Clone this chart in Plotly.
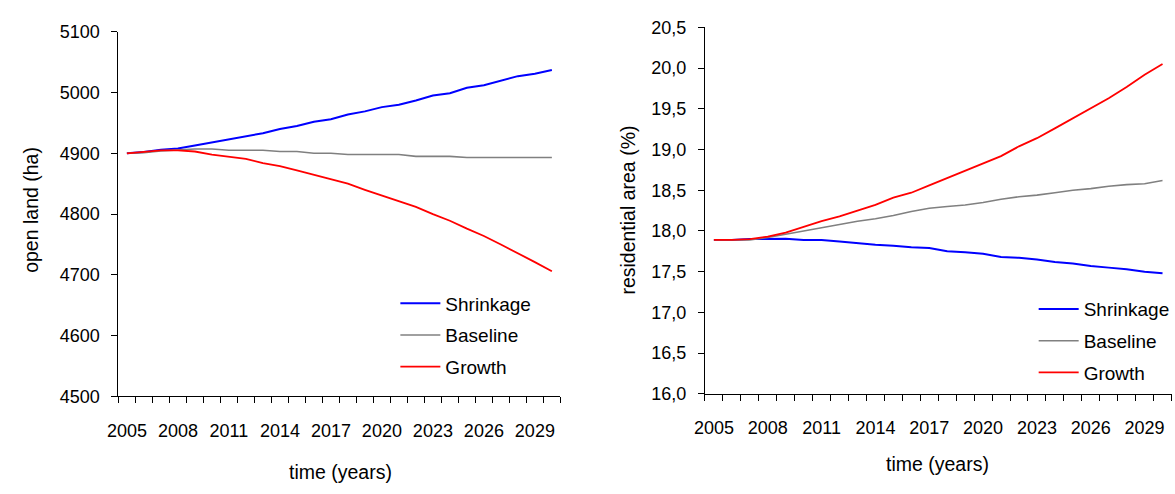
import plotly.graph_objects as go

years = list(range(2005, 2031))

# open land (ha)
open_shrinkage = [4900, 4902, 4906, 4908, 4913, 4918, 4923, 4928, 4933, 4940, 4945, 4952, 4956,
                  4964, 4969, 4976, 4980, 4987, 4995, 4999, 5008, 5012, 5020, 5027, 5031, 5037]
open_baseline = [4900, 4901, 4904, 4906, 4907, 4907, 4905, 4905, 4905, 4903, 4903, 4900, 4900,
                 4898, 4898, 4898, 4898, 4895, 4895, 4895, 4893, 4893, 4893, 4893, 4893, 4893]
open_growth = [4900, 4903, 4905, 4905, 4903, 4898, 4895, 4891, 4884, 4879, 4872, 4865, 4858,
               4850, 4840, 4831, 4821, 4812, 4800, 4789, 4776, 4764, 4750, 4736, 4721, 4706]

# residential area (%)
res_shrinkage = [17.89, 17.89, 17.90, 17.905, 17.905, 17.89, 17.89, 17.87, 17.85, 17.83, 17.82,
                 17.80, 17.79, 17.75, 17.74, 17.72, 17.68, 17.67, 17.65, 17.62, 17.60, 17.57,
                 17.55, 17.53, 17.50, 17.48]
res_baseline = [17.89, 17.89, 17.89, 17.92, 17.96, 18.00, 18.04, 18.08, 18.12, 18.15, 18.19,
                18.24, 18.28, 18.30, 18.32, 18.35, 18.39, 18.42, 18.44, 18.47, 18.50, 18.52,
                18.55, 18.57, 18.58, 18.62]
res_growth = [17.89, 17.89, 17.90, 17.93, 17.98, 18.05, 18.12, 18.18, 18.25, 18.32, 18.41,
              18.47, 18.56, 18.65, 18.74, 18.83, 18.92, 19.04, 19.14, 19.26, 19.38, 19.51,
              19.63, 19.77, 19.92, 20.05]

series_names = ["Shrinkage", "Baseline", "Growth"]
series_colors = ["#0000FF", "#808080", "#FF0000"]
series_widths = [2.0, 1.6, 1.8]

year_ticks = list(range(2005, 2030, 3))
open_ticks = [4500, 4600, 4700, 4800, 4900, 5000, 5100]
res_ticks = [16.0, 16.5, 17.0, 17.5, 18.0, 18.5, 19.0, 19.5, 20.0, 20.5]
res_ticktext = ["16,0", "16,5", "17,0", "17,5", "18,0", "18,5", "19,0", "19,5", "20,0", "20,5"]

FONT = "Liberation Sans, Arial, sans-serif"
W, H = 1175, 494
TICK_SIZE = 18
TITLE_SIZE = 19.5
LEGEND_SIZE = 19

fig = go.Figure()

for name, col, lw, ys in zip(series_names, series_colors, series_widths,
                             [open_shrinkage, open_baseline, open_growth]):
    fig.add_trace(go.Scatter(x=years, y=ys, mode="lines", name=name,
                             line=dict(color=col, width=lw),
                             xaxis="x", yaxis="y", legend="legend", legendgroup="l" + name))

for name, col, lw, ys in zip(series_names, series_colors, series_widths,
                             [res_shrinkage, res_baseline, res_growth]):
    fig.add_trace(go.Scatter(x=years, y=ys, mode="lines", name=name,
                             line=dict(color=col, width=lw),
                             xaxis="x2", yaxis="y2", legend="legend2", legendgroup="r" + name))


def px_x(p):
    return p / W


def px_y(p):
    return 1 - p / H


# Year labels sit under category centres (pushed down by an invisible major tick);
# the visible tick marks fall between categories as minor ticks.
xcommon = dict(
    range=[2004.5, 2030.5], tickmode="array", tickvals=year_ticks,
    ticks="outside", ticklen=18, tickcolor="rgba(0,0,0,0)",
    showline=True, linecolor="black", linewidth=1, showgrid=False, zeroline=False,
    tickfont=dict(family=FONT, size=TICK_SIZE, color="black"),
    minor=dict(tickmode="linear", tick0=2004.5, dtick=1, ticks="outside", ticklen=6,
               tickcolor="black", tickwidth=1, showgrid=False),
)
ycommon = dict(
    showline=True, linecolor="black", linewidth=1, showgrid=False, zeroline=False,
    ticks="outside", ticklen=6, tickcolor="black", tickwidth=1, ticklabelstandoff=8,
    tickfont=dict(family=FONT, size=TICK_SIZE, color="black"),
)

legend_common = dict(xanchor="left", yanchor="top", bgcolor="rgba(0,0,0,0)",
                     font=dict(family=FONT, size=LEGEND_SIZE, color="black"),
                     tracegroupgap=4, itemwidth=40)
title_font = dict(family=FONT, size=TITLE_SIZE, color="black")


def title(text, x, y, angle=0):
    return dict(text=text, xref="paper", yref="paper", x=px_x(x), y=px_y(y),
                xanchor="center", yanchor="middle", textangle=angle,
                showarrow=False, font=title_font)


fig.update_layout(
    width=W, height=H,
    margin=dict(l=0, r=0, t=0, b=0),
    paper_bgcolor="white", plot_bgcolor="white",
    showlegend=True,
    xaxis=dict(domain=[px_x(108.7), px_x(556)], anchor="y", **xcommon),
    yaxis=dict(domain=[px_y(402.7), px_y(22.7)], anchor="x", range=[4500, 5100],
               tickmode="array", tickvals=open_ticks, **ycommon),
    xaxis2=dict(domain=[px_x(702.3), px_x(1174.5)], anchor="y2", **xcommon),
    yaxis2=dict(domain=[px_y(400), px_y(18.2)], anchor="x2", range=[16.0, 20.5],
                tickmode="array", tickvals=res_ticks, ticktext=res_ticktext, **ycommon),
    legend=dict(x=px_x(389), y=px_y(286), **legend_common),
    legend2=dict(x=px_x(1035), y=px_y(292), **legend_common),
    annotations=[
        title("open land (ha)", 19.5, 208, -90),
        title("time (years)", 333, 481),
        title("residential area (%)", 623.5, 209, -90),
        title("time (years)", 938, 473),
    ],
)

fig.write_html("out.html")
